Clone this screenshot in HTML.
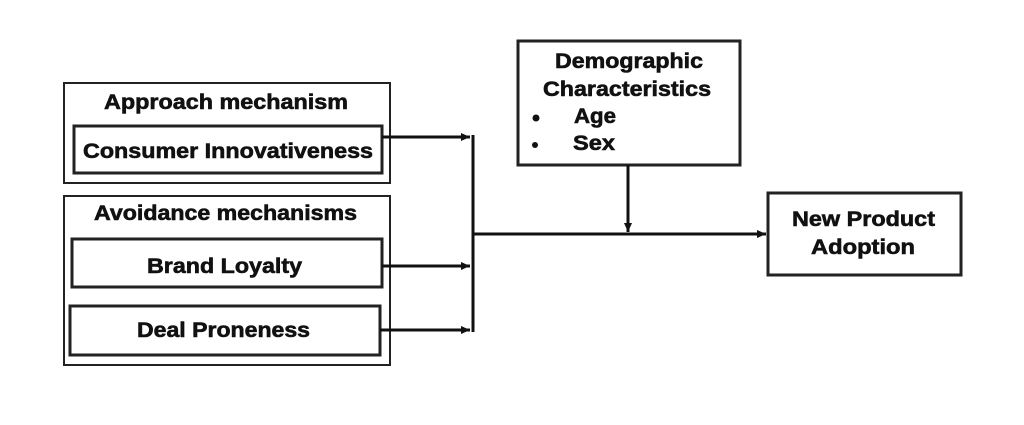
<!DOCTYPE html>
<html><head><style>
body{margin:0;background:#fff;}
svg text{font-family:"Liberation Sans",Arial,sans-serif;font-weight:bold;fill:#111;stroke:#111;stroke-width:0.6px;}
</style></head><body>
<svg width="1024" height="420" viewBox="0 0 1024 420" xmlns="http://www.w3.org/2000/svg">
<defs><marker id="a" markerWidth="10" markerHeight="10" refX="9" refY="5" orient="auto" markerUnits="userSpaceOnUse"><path d="M0,1 L9,5 L0,9 z" fill="#111"/></marker></defs>
<g fill="none" stroke="#222">
<rect x="64" y="83" width="326" height="100" stroke-width="2"/>
<rect x="74" y="126" width="308" height="47" stroke-width="3"/>
<rect x="64" y="196" width="326" height="169" stroke-width="2"/>
<rect x="72" y="239" width="310" height="48" stroke-width="3"/>
<rect x="70" y="306" width="310" height="49" stroke-width="3"/>
<rect x="518" y="41" width="222" height="124" stroke-width="3"/>
<rect x="768" y="193" width="193" height="82" stroke-width="3"/>
</g>
<g stroke="#111" stroke-width="3" fill="none">
<line x1="382" y1="137" x2="470" y2="137" marker-end="url(#a)"/>
<line x1="382" y1="266" x2="470" y2="266" marker-end="url(#a)"/>
<line x1="380" y1="330" x2="470" y2="330" marker-end="url(#a)"/>
<line x1="473" y1="135" x2="473" y2="332"/>
<line x1="473" y1="234" x2="766" y2="234" marker-end="url(#a)"/>
<line x1="628" y1="165" x2="628" y2="232" marker-end="url(#a)"/>
</g>
<text x="104" y="109" font-size="21" textLength="244" lengthAdjust="spacingAndGlyphs">Approach mechanism</text>
<text x="83" y="158" font-size="21" textLength="290" lengthAdjust="spacingAndGlyphs">Consumer Innovativeness</text>
<text x="94" y="220" font-size="21" textLength="263" lengthAdjust="spacingAndGlyphs">Avoidance mechanisms</text>
<text x="147" y="273" font-size="21" textLength="155" lengthAdjust="spacingAndGlyphs">Brand Loyalty</text>
<text x="137" y="337" font-size="21" textLength="173" lengthAdjust="spacingAndGlyphs">Deal Proneness</text>
<text x="555" y="68" font-size="21" textLength="148" lengthAdjust="spacingAndGlyphs">Demographic</text>
<text x="543" y="96" font-size="21" textLength="168" lengthAdjust="spacingAndGlyphs">Characteristics</text>
<circle cx="536" cy="118" r="3.5" fill="#111"/>
<circle cx="535" cy="145" r="3" fill="#111"/>
<text x="574" y="123" font-size="21" textLength="42" lengthAdjust="spacingAndGlyphs">Age</text>
<text x="573" y="150" font-size="21" textLength="42" lengthAdjust="spacingAndGlyphs">Sex</text>
<text x="792" y="226" font-size="21" textLength="143" lengthAdjust="spacingAndGlyphs">New Product</text>
<text x="811" y="254" font-size="21" textLength="104" lengthAdjust="spacingAndGlyphs">Adoption</text>
</svg>
</body></html>
